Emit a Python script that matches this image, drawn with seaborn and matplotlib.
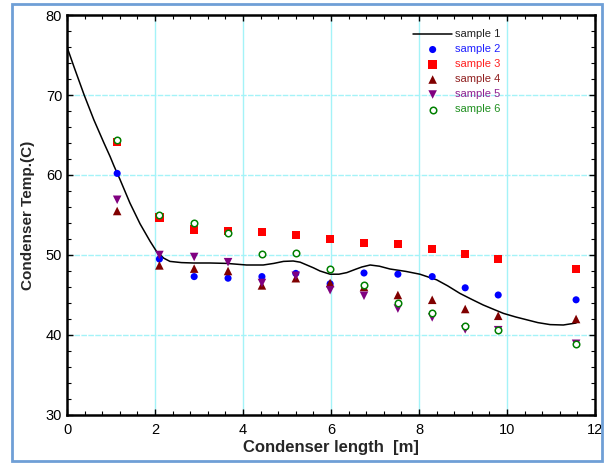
import matplotlib
matplotlib.use("Agg")
import matplotlib.pyplot as plt
from matplotlib.patches import Rectangle
from matplotlib.ticker import MultipleLocator
import pandas as pd
import seaborn as sns

# Measurement positions along the condenser [m]
positions = [1.14, 2.1, 2.89, 3.66, 4.43, 5.2, 5.98, 6.75, 7.52, 8.3, 9.05, 9.8, 11.57]

sample2 = [60.2, 49.5, 47.3, 47.1, 47.3, 47.7, 46.4, 47.75, 47.6, 47.3, 45.9, 45.0, 44.4]
sample3 = [64.1, 54.7, 53.2, 53.0, 52.9, 52.5, 52.0, 51.5, 51.4, 50.75, 50.1, 49.5, 48.25]
sample4 = [55.5, 48.7, 48.3, 48.0, 46.2, 47.1, 46.5, 46.0, 45.0, 44.4, 43.25, 42.4, 42.0]
sample5 = [56.9, 50.0, 49.75, 49.1, 46.5, 47.4, 45.6, 44.9, 43.3, 42.2, 40.7, 40.6, 38.9]
sample6 = [64.4, 55.0, 54.0, 52.75, 50.1, 50.2, 48.3, 46.3, 44.0, 42.7, 41.1, 40.6, 38.9]

# Smooth temperature profile of sample 1
curve_x = [0.0, 0.16, 0.39, 0.61, 0.84, 0.98, 1.07, 1.2, 1.43, 1.66, 1.89, 2.04,
           2.2, 2.34, 2.6, 2.87, 3.25, 3.63, 4.08, 4.46, 4.7, 4.92, 5.14, 5.3,
           5.45, 5.6, 5.75, 5.98, 6.18, 6.36, 6.55, 6.7, 6.89, 7.1, 7.34, 7.7,
           8.02, 8.4, 8.65, 8.93, 9.2, 9.46, 9.7, 9.92, 10.2, 10.45, 10.7,
           10.98, 11.28, 11.57]
curve_y = [76.0, 73.5, 70.0, 66.9, 64.0, 62.3, 61.1, 59.5, 56.5, 53.9, 51.7, 50.4,
           49.6, 49.2, 49.05, 49.0, 49.0, 48.95, 48.75, 48.75, 48.95, 49.2, 49.25, 49.1,
           48.75, 48.4, 48.0, 47.6, 47.6, 47.8, 48.2, 48.5, 48.75, 48.6, 48.25, 47.95,
           47.6, 46.9, 46.15, 45.2, 44.45, 43.75, 43.2, 42.7, 42.25, 41.9, 41.55,
           41.3, 41.25, 41.5]

x_ticks = [0, 2, 4, 6, 8, 10, 12]
y_ticks = [30, 40, 50, 60, 70, 80]

series = {
    "sample 2": sample2,
    "sample 3": sample3,
    "sample 4": sample4,
    "sample 5": sample5,
    "sample 6": sample6,
}
points = pd.DataFrame(
    [(x, y, name) for name, vals in series.items() for x, y in zip(positions, vals)],
    columns=["length", "temp", "sample"],
)
line_df = pd.DataFrame({"length": curve_x, "temp": curve_y})

sns.set_style("white")
plt.rcParams["font.family"] = ["Liberation Sans", "DejaVu Sans"]

fig = plt.figure(figsize=(6.09, 4.63), dpi=100)
ax = fig.add_axes([67 / 609, 48 / 463, 528 / 609, 400 / 463])

# outer frame around the figure
fig.patches.append(Rectangle((12 / 609, 2 / 463), 590 / 609, 457 / 463,
                             transform=fig.transFigure, fill=False,
                             edgecolor="#6f9fd6", linewidth=2))

grid_color = "#a4f3f8"
for gx in x_ticks[1:-1]:
    ax.axvline(gx, color=grid_color, lw=1.0, zorder=0)
for gy in y_ticks[1:-1]:
    ax.axhline(gy, color=grid_color, lw=1.0, ls=(0, (4, 1)), zorder=0)

sns.lineplot(data=line_df, x="length", y="temp", ax=ax, color="black",
             lw=1.1, sort=False, label="sample 1", zorder=3)

styles = {
    "sample 2": dict(marker="o", color="#0000ff", s=26, fill=True),
    "sample 3": dict(marker="s", color="#ff0000", s=38, fill=True),
    "sample 4": dict(marker="^", color="#800000", s=38, fill=True),
    "sample 5": dict(marker="v", color="#800080", s=38, fill=True),
    "sample 6": dict(marker="o", color="#008000", s=22, fill=False),
}
for name, st in styles.items():
    sub = points[points["sample"] == name]
    if st["fill"]:
        sns.scatterplot(data=sub, x="length", y="temp", ax=ax, marker=st["marker"],
                        color=st["color"], s=st["s"], edgecolor="none",
                        label=name, zorder=4)
    else:
        sns.scatterplot(data=sub, x="length", y="temp", ax=ax, marker=st["marker"],
                        facecolor="white", edgecolor=st["color"], linewidth=1.1,
                        s=st["s"], label=name, zorder=5)

ax.set_xlim(0, 12)
ax.set_ylim(30, 80)
ax.set_xticks(x_ticks)
ax.set_yticks(y_ticks)
ax.xaxis.set_minor_locator(MultipleLocator(0.4))
ax.yaxis.set_minor_locator(MultipleLocator(2))
ax.tick_params(which="both", direction="in", top=True, right=True,
               bottom=True, left=True, labelsize=10.5, colors="black")
ax.tick_params(which="major", length=4, width=1)
ax.tick_params(which="minor", length=3, width=0.8)
ax.tick_params(axis="x", pad=6)

for side in ["left", "right", "top", "bottom"]:
    ax.spines[side].set_visible(True)
    ax.spines[side].set_color("black")
    ax.spines[side].set_linewidth(1.8)

ax.set_xlabel("Condenser length  [m]", fontsize=12, fontweight="bold", labelpad=2)
ax.set_ylabel("Condenser Temp.(C)", fontsize=11, fontweight="bold", labelpad=8)

leg = ax.legend(loc="upper right", bbox_to_anchor=(0.83, 0.975), frameon=False,
                fontsize=8, handlelength=3.5, handletextpad=0.3,
                labelspacing=0.45, borderaxespad=0)
text_colors = ["#222222", "#2020ff", "#ff2020", "#902020", "#902090", "#209020"]
for txt, c in zip(leg.get_texts(), text_colors):
    txt.set_color(c)

fig.savefig("out.png", dpi=100)
